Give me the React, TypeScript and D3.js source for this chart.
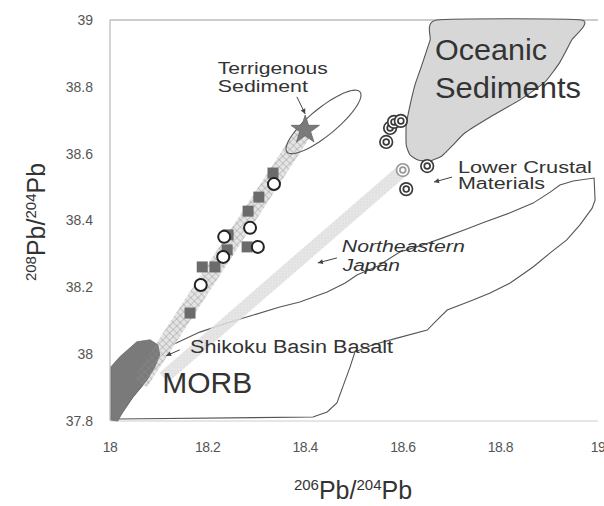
import React from "react";
import * as d3 from "d3";

// Axis domains and tick values
const xDomain: [number, number] = [18, 19];
const yDomain: [number, number] = [37.8, 39];
const xTicks = [18, 18.2, 18.4, 18.6, 18.8, 19];
const yTicks = [37.8, 38, 38.2, 38.4, 38.6, 38.8, 39];

// Samples along the Shikoku Basin – terrigenous sediment trend
const squareSamples: [number, number][] = [
  [18.334, 38.542], [18.305, 38.47], [18.283, 38.428], [18.242, 38.357],
  [18.281, 38.321], [18.24, 38.312], [18.189, 38.261], [18.215, 38.261],
  [18.164, 38.123],
];
const circleSamples: [number, number][] = [
  [18.336, 38.509], [18.287, 38.378], [18.234, 38.351], [18.303, 38.321],
  [18.232, 38.291], [18.186, 38.207],
];
// Samples near the lower crustal / oceanic sediment end
const ringSamples: [number, number][] = [
  [18.566, 38.635], [18.574, 38.677], [18.582, 38.695], [18.596, 38.698],
  [18.65, 38.563], [18.607, 38.494],
];
const grayRingSamples: [number, number][] = [[18.6, 38.551]];
const terrigenousStar: [number, number] = [18.4, 38.671];

// Fields
const oceanicField: [number, number][] = [
  [18.67, 39.0], [18.656, 38.94], [18.639, 38.865], [18.625, 38.806],
  [18.615, 38.746], [18.607, 38.686], [18.607, 38.626], [18.615, 38.596],
  [18.631, 38.581], [18.656, 38.578], [18.68, 38.593], [18.701, 38.623],
  [18.727, 38.662], [18.779, 38.71], [18.84, 38.761], [18.891, 38.814],
  [18.922, 38.874], [18.946, 38.94], [18.966, 39.0],
];
const morbField: [number, number][] = [
  [18.002, 37.803], [18.002, 37.962], [18.02, 37.992], [18.055, 38.037],
  [18.082, 38.043], [18.098, 38.028], [18.102, 37.998], [18.092, 37.962],
  [18.076, 37.923], [18.047, 37.872], [18.025, 37.824], [18.016, 37.8],
];
const japanField: [number, number][] = [
  [18.102, 38.013], [18.137, 38.034], [18.184, 38.066], [18.24, 38.093],
  [18.287, 38.114], [18.348, 38.141], [18.389, 38.156], [18.445, 38.186],
  [18.482, 38.213], [18.506, 38.237], [18.549, 38.264], [18.594, 38.306],
  [18.635, 38.324], [18.682, 38.348], [18.727, 38.372], [18.764, 38.393],
  [18.82, 38.423], [18.867, 38.452], [18.902, 38.485], [18.922, 38.506],
  [18.949, 38.518], [18.992, 38.527], [18.994, 38.461], [18.988, 38.437],
  [18.963, 38.387], [18.936, 38.342], [18.902, 38.303], [18.867, 38.261],
  [18.82, 38.213], [18.779, 38.183], [18.744, 38.162], [18.691, 38.132],
  [18.67, 38.102], [18.65, 38.072], [18.588, 38.048], [18.539, 38.028],
  [18.502, 38.007], [18.492, 37.962], [18.477, 37.902], [18.465, 37.854],
  [18.445, 37.827], [18.416, 37.812], [18.016, 37.806], [18.047, 37.872],
  [18.076, 37.923], [18.092, 37.962],
];
// Terrigenous sediment ellipse: centre, semi-major and semi-minor vectors
const ellipseCenter: [number, number] = [18.4375, 38.695];
const ellipseMajor: [number, number] = [0.0748, 0.0898];
const ellipseMinor: [number, number] = [0.0176, -0.0311];

// Mixing bands (start, end)
const hatchedBand: [number, number][] = [[18.062, 37.915], [18.4, 38.671]];
const lightBand: [number, number][] = [[18.11, 37.93], [18.605, 38.557]];

// Labels: text, anchor, font size, fitted length, italic
type Label = { text: string; at: [number, number]; size: number; len: number; italic?: boolean };
const labels: Label[] = [
  { text: "Terrigenous", at: [18.221, 38.838], size: 17, len: 110 },
  { text: "Sediment", at: [18.221, 38.785], size: 17, len: 90 },
  { text: "Oceanic", at: [18.666, 38.88], size: 29, len: 112 },
  { text: "Sediments", at: [18.666, 38.767], size: 29, len: 146 },
  { text: "Lower Crustal", at: [18.713, 38.542], size: 16, len: 134 },
  { text: "Materials", at: [18.713, 38.494], size: 16, len: 87 },
  { text: "Northeastern", at: [18.475, 38.306], size: 16, len: 123, italic: true },
  { text: "Japan", at: [18.477, 38.249], size: 16, len: 57, italic: true },
  { text: "Shikoku Basin Basalt", at: [18.164, 38.004], size: 18, len: 203 },
  { text: "MORB", at: [18.107, 37.884], size: 30, len: 90 },
];
// Pointer arrows: from, to
const arrows: [number, number][][] = [
  [[18.383, 38.77], [18.4, 38.719]],
  [[18.701, 38.53], [18.664, 38.515]],
  [[18.465, 38.288], [18.426, 38.273]],
  [[18.143, 38.013], [18.115, 37.995]],
];

const W = 604;
const H = 506;
const x = d3.scaleLinear().domain(xDomain).range([110, 598]);
const y = d3.scaleLinear().domain(yDomain).range([421, 20]);
const font = "'Liberation Sans', Arial, Helvetica, sans-serif";
const ink = "#333";

const pt = (d: [number, number]): [number, number] => [x(d[0]), y(d[1])];
const line = d3.line<[number, number]>().x((d) => x(d[0])).y((d) => y(d[1]));
const closed = d3.line<[number, number]>().x((d) => x(d[0])).y((d) => y(d[1])).curve(d3.curveLinearClosed);
const smoothClosed = d3.line<[number, number]>().x((d) => x(d[0])).y((d) => y(d[1])).curve(d3.curveCardinalClosed.tension(0.5));

function bandPath(ends: [number, number][], halfWidth: number) {
  const [a, b] = ends.map(pt);
  const dx = b[0] - a[0];
  const dy = b[1] - a[1];
  const len = Math.hypot(dx, dy);
  const nx = (-dy / len) * halfWidth;
  const ny = (dx / len) * halfWidth;
  return `M${a[0] + nx},${a[1] + ny}L${b[0] + nx},${b[1] + ny}L${b[0] - nx},${b[1] - ny}L${a[0] - nx},${a[1] - ny}Z`;
}

function ellipsePoints(): [number, number][] {
  return d3.range(0, 72).map((i) => {
    const t = (i / 72) * Math.PI * 2;
    return [
      ellipseCenter[0] + Math.cos(t) * ellipseMajor[0] + Math.sin(t) * ellipseMinor[0],
      ellipseCenter[1] + Math.cos(t) * ellipseMajor[1] + Math.sin(t) * ellipseMinor[1],
    ];
  });
}

const starPath = d3.symbol(d3.symbolStar, 250)() || "";

export default function App() {
  return (
    <div style={{ position: "fixed", left: 0, top: 0 }}>
      <svg width={W} height={H} style={{ display: "block", background: "#fff" }} fontFamily={font}>
        <defs>
          <pattern id="hatch" width={5} height={5} patternUnits="userSpaceOnUse" patternTransform="rotate(45)">
            <line x1={0} y1={0} x2={0} y2={5} stroke="#8f8f8f" strokeWidth={0.8} />
            <line x1={0} y1={0} x2={5} y2={0} stroke="#8f8f8f" strokeWidth={0.8} />
          </pattern>
          <pattern id="stipple" width={3} height={3} patternUnits="userSpaceOnUse">
            <rect width={3} height={3} fill="#e2e2e2" />
            <circle cx={1} cy={1} r={0.6} fill="#cacaca" />
          </pattern>
        </defs>

        {/* frame */}
        <line x1={x(18)} x2={x(19)} y1={y(39)} y2={y(39)} stroke="#999" strokeWidth={1} />
        <line x1={x(18)} x2={x(18)} y1={y(39)} y2={y(37.8)} stroke="#aaa" strokeWidth={1} />
        <line x1={x(18)} x2={x(19)} y1={y(37.8)} y2={y(37.8)} stroke="#ccc" strokeWidth={1} />

        {/* fields */}
        <path d={closed(japanField) || ""} fill="none" stroke="#555" strokeWidth={1.1} />
        <path d={smoothClosed(oceanicField) || ""} fill="#d7d7d7" stroke="#555" strokeWidth={1.1} />
        <path d={bandPath(lightBand, 6.5)} fill="url(#stipple)" opacity={0.85} />
        <path d={bandPath(hatchedBand, 8)} fill="#e4e4e4" />
        <path d={closed(morbField) || ""} fill="#7a7a7a" stroke="#6f6f6f" strokeWidth={0.8} />
        <path d={bandPath(hatchedBand, 8)} fill="url(#hatch)" />
        <path d={closed(ellipsePoints()) || ""} fill="none" stroke="#555" strokeWidth={1.1} />

        {/* samples */}
        {squareSamples.map((d, i) => (
          <rect key={`s${i}`} x={x(d[0]) - 5.5} y={y(d[1]) - 5.5} width={11} height={11} fill="#6b6b6b" />
        ))}
        {circleSamples.map((d, i) => (
          <circle key={`c${i}`} cx={x(d[0])} cy={y(d[1])} r={6} fill="#fff" stroke="#222" strokeWidth={2} />
        ))}
        <path d={starPath} transform={`translate(${x(terrigenousStar[0])},${y(terrigenousStar[1])})`} fill="#7a7a7a" stroke="#666" strokeWidth={0.8} />
        {ringSamples.map((d, i) => (
          <g key={`r${i}`} transform={`translate(${x(d[0])},${y(d[1])})`}>
            <circle r={6.3} fill="#fff" stroke="#3a3a3a" strokeWidth={1.7} />
            <circle r={2.9} fill="#fff" stroke="#3a3a3a" strokeWidth={1.7} />
          </g>
        ))}
        {grayRingSamples.map((d, i) => (
          <g key={`g${i}`} transform={`translate(${x(d[0])},${y(d[1])})`}>
            <circle r={6.3} fill="#fff" stroke="#999" strokeWidth={1.7} />
            <circle r={2.9} fill="#fff" stroke="#999" strokeWidth={1.7} />
          </g>
        ))}

        {/* labels and pointers */}
        {labels.map((l) => (
          <text key={l.text} x={x(l.at[0])} y={y(l.at[1])} fontSize={l.size} fill={ink}
            fontStyle={l.italic ? "italic" : "normal"} textLength={l.len} lengthAdjust="spacingAndGlyphs">
            {l.text}
          </text>
        ))}
        {arrows.map((a, i) => {
          const [p0, p1] = a.map(pt);
          const ang = Math.atan2(p1[1] - p0[1], p1[0] - p0[0]);
          const h = 5;
          const w = 2.5;
          const bx = p1[0] - Math.cos(ang) * h;
          const by = p1[1] - Math.sin(ang) * h;
          const head = `M${p1[0]},${p1[1]}L${bx - Math.sin(ang) * w},${by + Math.cos(ang) * w}L${bx + Math.sin(ang) * w},${by - Math.cos(ang) * w}Z`;
          return (
            <g key={`a${i}`}>
              <path d={line(a as [number, number][]) || ""} stroke="#444" strokeWidth={1} fill="none" />
              <path d={head} fill="#444" />
            </g>
          );
        })}

        {/* tick labels */}
        {yTicks.map((t) => (
          <text key={`yt${t}`} x={93} y={y(t)} dy="0.35em" textAnchor="end" fontSize={14} fill="#555">
            {String(+t.toFixed(1))}
          </text>
        ))}
        {xTicks.map((t) => (
          <text key={`xt${t}`} x={x(t)} y={452} textAnchor="middle" fontSize={14} fill="#555" letterSpacing={-0.5}>
            {String(+t.toFixed(1))}
          </text>
        ))}

        {/* axis titles */}
        <text x={353} y={499} textAnchor="middle" fill={ink} fontSize={25}>
          <tspan fontSize={15} dy={-9}>206</tspan>
          <tspan dy={9}>Pb/</tspan>
          <tspan fontSize={15} dy={-9}>204</tspan>
          <tspan dy={9}>Pb</tspan>
        </text>
        <text transform="translate(45,222) rotate(-90)" textAnchor="middle" fill={ink} fontSize={25}>
          <tspan fontSize={15} dy={-9}>208</tspan>
          <tspan dy={9}>Pb/</tspan>
          <tspan fontSize={15} dy={-9}>204</tspan>
          <tspan dy={9}>Pb</tspan>
        </text>
      </svg>
    </div>
  );
}
